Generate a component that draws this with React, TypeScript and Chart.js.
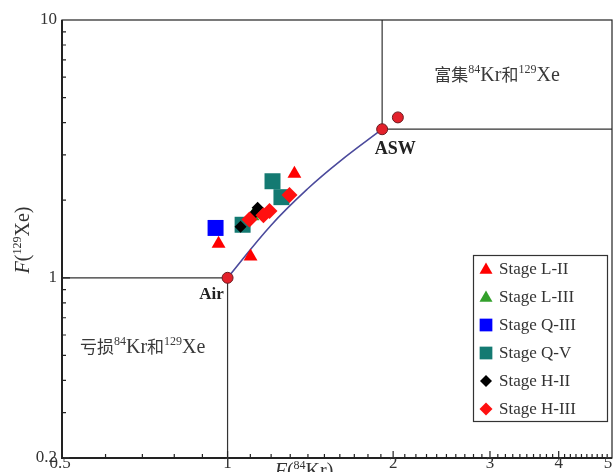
import React, { useEffect, useRef } from "react";
import { Chart, registerables } from "chart.js";

Chart.register(...registerables);

// ---- data ----
const SERIES_NAMES = ["Stage L-II", "Stage L-III", "Stage Q-III", "Stage Q-V", "Stage H-II", "Stage H-III"];

const L2_KR = [0.963, 1.101, 1.323];
const L2_XE = [1.354, 1.209, 2.531];
const L3_KR = [1.11];
const L3_XE = [1.733];
const Q3_KR = [0.951];
const Q3_XE = [1.561];
const Q5_KR = [1.065, 1.207, 1.253];
const Q5_XE = [1.606, 2.369, 2.055];
const H2_KR = [1.056, 1.115, 1.134];
const H2_XE = [1.576, 1.766, 1.869];
const H3_KR = [1.096, 1.162, 1.192, 1.296];
const H3_XE = [1.684, 1.749, 1.816, 2.094];

const AIR_KR = 1;
const AIR_XE = 1;
const ASW_KR = 1.91;
const ASW_XE = 3.77;
const EXTRA_KR = [2.04];
const EXTRA_XE = [4.19];

// mixing line Air -> ASW
const MIX_KR = [1, 1.2, 1.4, 1.6, 1.91];
const MIX_XE = [1, 1.6, 2.22, 2.83, 3.77];

// axes
const X_MIN = 0.5;
const X_MAX = 5;
const Y_MIN = 0.2;
const Y_MAX = 10;
const X_LABELS = [0.5, 1, 2, 3, 4, 5];
const Y_LABELS = [0.2, 1, 10];
const X_MAJOR_TICKS = [1, 2, 3, 4];
const X_MINOR_TICKS = [
  0.6, 0.7, 0.8, 0.9, 1.1, 1.2, 1.3, 1.4, 1.5, 1.6, 1.7, 1.8, 1.9, 2.1, 2.2, 2.3, 2.4, 2.5, 2.6, 2.7, 2.8, 2.9,
  3.1, 3.2, 3.3, 3.4, 3.5, 3.6, 3.7, 3.8, 3.9, 4.1, 4.2, 4.3, 4.4, 4.5, 4.6, 4.7, 4.8, 4.9,
];
const Y_MAJOR_TICKS = [1];
const Y_MINOR_TICKS = [0.3, 0.4, 0.5, 0.6, 0.7, 0.8, 0.9, 2, 3, 4, 5, 6, 7, 8, 9];

const COLORS = ["#ff0000", "#33a02c", "#0000ff", "#147a72", "#000000", "#ff1010"];
const SHAPES = ["triangle", "triangle", "rect", "rect", "rectRot", "rectRot"];
const SIZES = [8, 8, 11.3, 11.3, 6, 8];

const SERIF = '"Liberation Serif", "Times New Roman", serif';
const CJK = '"Noto Sans CJK SC", sans-serif';

const pts = (xs: number[], ys: number[]) => xs.map((v, i) => ({ x: v, y: ys[i] }));

type Part = { t: string; font: string; dy?: number };

function drawRich(ctx: CanvasRenderingContext2D, x: number, y: number, parts: Part[], align: string) {
  let total = 0;
  const widths: number[] = [];
  for (const p of parts) {
    ctx.font = p.font;
    const w = ctx.measureText(p.t).width;
    widths.push(w);
    total += w;
  }
  let cx = align === "center" ? x - total / 2 : align === "right" ? x - total : x;
  ctx.textAlign = "left";
  parts.forEach((p, i) => {
    ctx.font = p.font;
    ctx.fillText(p.t, cx, y + (p.dy || 0));
    cx += widths[i];
  });
}

function drawMarker(ctx: CanvasRenderingContext2D, shape: string, x: number, y: number, r: number, color: string) {
  ctx.fillStyle = color;
  ctx.beginPath();
  if (shape === "triangle") {
    for (let k = 0; k < 3; k++) {
      const a = (k * 2 * Math.PI) / 3;
      const px = x + Math.sin(a) * r;
      const py = y - Math.cos(a) * r;
      if (k === 0) ctx.moveTo(px, py);
      else ctx.lineTo(px, py);
    }
    ctx.closePath();
  } else if (shape === "rect") {
    const s = r * Math.SQRT1_2;
    ctx.rect(x - s, y - s, 2 * s, 2 * s);
  } else {
    ctx.moveTo(x, y - r);
    ctx.lineTo(x + r, y);
    ctx.lineTo(x, y + r);
    ctx.lineTo(x - r, y);
    ctx.closePath();
  }
  ctx.fill();
}

const regionText = (word: string): Part[] => [
  { t: word, font: `17px ${CJK}` },
  { t: "84", font: `12px ${SERIF}`, dy: -8 },
  { t: "Kr", font: `20px ${SERIF}` },
  { t: "和", font: `17px ${CJK}` },
  { t: "129", font: `12px ${SERIF}`, dy: -8 },
  { t: "Xe", font: `20px ${SERIF}` },
];

const overlay = {
  id: "overlay",
  beforeDatasetsDraw(chart: any) {
    const { ctx, chartArea: a } = chart;
    const xs = chart.scales.x;
    const ys = chart.scales.y;
    ctx.save();
    ctx.strokeStyle = "#333";
    ctx.lineWidth = 1.2;
    const ax = xs.getPixelForValue(AIR_KR);
    const ay = ys.getPixelForValue(AIR_XE);
    const sx = xs.getPixelForValue(ASW_KR);
    const sy = ys.getPixelForValue(ASW_XE);
    ctx.beginPath();
    ctx.moveTo(a.left, ay);
    ctx.lineTo(ax, ay);
    ctx.lineTo(ax, a.bottom);
    ctx.moveTo(sx, a.top);
    ctx.lineTo(sx, sy);
    ctx.lineTo(a.right, sy);
    ctx.stroke();

    // region annotations
    ctx.fillStyle = "#3a3a3a";
    ctx.textBaseline = "alphabetic";
    drawRich(ctx, (sx + a.right) / 2, 81, regionText("富集"), "center");
    drawRich(ctx, 80, 353, regionText("亏损"), "left");
    ctx.restore();
  },
  afterDatasetsDraw(chart: any) {
    const { ctx, chartArea: a } = chart;
    const xs = chart.scales.x;
    const ys = chart.scales.y;
    ctx.save();

    // frame
    ctx.strokeStyle = "#222";
    ctx.lineWidth = 1.2;
    ctx.strokeRect(a.left, a.top, a.right - a.left, a.bottom - a.top);
    ctx.lineWidth = 2;
    ctx.beginPath();
    ctx.moveTo(a.left, a.top);
    ctx.lineTo(a.left, a.bottom);
    ctx.lineTo(a.right, a.bottom);
    ctx.stroke();

    // ticks (inward)
    ctx.lineWidth = 1.2;
    ctx.beginPath();
    for (const v of X_MINOR_TICKS) {
      const p = xs.getPixelForValue(v);
      ctx.moveTo(p, a.bottom);
      ctx.lineTo(p, a.bottom - 4);
    }
    for (const v of X_MAJOR_TICKS) {
      const p = xs.getPixelForValue(v);
      ctx.moveTo(p, a.bottom);
      ctx.lineTo(p, a.bottom - 7);
    }
    for (const v of Y_MINOR_TICKS) {
      const p = ys.getPixelForValue(v);
      ctx.moveTo(a.left, p);
      ctx.lineTo(a.left + 4, p);
    }
    for (const v of Y_MAJOR_TICKS) {
      const p = ys.getPixelForValue(v);
      ctx.moveTo(a.left, p);
      ctx.lineTo(a.left + 8, p);
    }
    ctx.stroke();

    // tick labels
    ctx.fillStyle = "#333";
    ctx.font = `17px ${SERIF}`;
    ctx.textBaseline = "middle";
    ctx.textAlign = "right";
    for (const v of Y_LABELS) {
      ctx.fillText(String(v), a.left - 5, ys.getPixelForValue(v));
    }
    ctx.textAlign = "center";
    for (const v of X_LABELS) {
      let p = xs.getPixelForValue(v);
      if (v === X_MAX) p -= 4;
      if (v === X_MIN) p -= 2;
      ctx.fillText(String(v), p, a.bottom + 6);
    }

    // axis titles
    ctx.textBaseline = "alphabetic";
    drawRich(
      ctx,
      304,
      477,
      [
        { t: "F", font: `italic 20px ${SERIF}` },
        { t: "(", font: `20px ${SERIF}` },
        { t: "84", font: `12px ${SERIF}`, dy: -8 },
        { t: "Kr)", font: `20px ${SERIF}` },
      ],
      "center"
    );
    ctx.save();
    ctx.translate(29, 240);
    ctx.rotate(-Math.PI / 2);
    drawRich(
      ctx,
      0,
      0,
      [
        { t: "F", font: `italic 20px ${SERIF}` },
        { t: "(", font: `20px ${SERIF}` },
        { t: "129", font: `12px ${SERIF}`, dy: -8 },
        { t: "Xe)", font: `20px ${SERIF}` },
      ],
      "center"
    );
    ctx.restore();

    // Air / ASW labels
    ctx.fillStyle = "#222";
    ctx.font = `bold 17px ${SERIF}`;
    ctx.textAlign = "center";
    ctx.textBaseline = "middle";
    ctx.fillText("Air", xs.getPixelForValue(AIR_KR) - 16, ys.getPixelForValue(AIR_XE) + 17);
    ctx.font = `bold 18px ${SERIF}`;
    ctx.fillText("ASW", xs.getPixelForValue(ASW_KR) + 13, ys.getPixelForValue(ASW_XE) + 20);

    // legend
    const lx = 473.5;
    const ly = 255.5;
    const lw = 134;
    const lh = 166;
    ctx.fillStyle = "#fff";
    ctx.fillRect(lx, ly, lw, lh);
    ctx.strokeStyle = "#333";
    ctx.lineWidth = 1.2;
    ctx.strokeRect(lx, ly, lw, lh);
    const legendSizes = [7.5, 7.5, 9, 9, 6, 6.5];
    SERIES_NAMES.forEach((name, i) => {
      const yy = 269 + i * 28;
      drawMarker(ctx, SHAPES[i], 486, yy + (SHAPES[i] === "triangle" ? 1 : 0), legendSizes[i], COLORS[i]);
      ctx.fillStyle = "#333";
      ctx.font = `17px ${SERIF}`;
      ctx.textAlign = "left";
      ctx.textBaseline = "middle";
      ctx.fillText(name, 499, yy + 1);
    });

    ctx.restore();
  },
};

export default function App() {
  const ref = useRef<HTMLCanvasElement>(null);
  useEffect(() => {
    document.body.style.margin = "0";
    const series = [
      pts(L2_KR, L2_XE),
      pts(L3_KR, L3_XE),
      pts(Q3_KR, Q3_XE),
      pts(Q5_KR, Q5_XE),
      pts(H2_KR, H2_XE),
      pts(H3_KR, H3_XE),
    ];
    const datasets: any[] = series.map((d, i) => ({
      label: SERIES_NAMES[i],
      data: d,
      pointStyle: SHAPES[i],
      pointRadius: SIZES[i],
      backgroundColor: COLORS[i],
      borderColor: COLORS[i],
      borderWidth: 0,
      order: 5 - i + 1,
    }));
    datasets.push({
      label: "mixing",
      data: pts(MIX_KR, MIX_XE),
      showLine: true,
      borderColor: "#4b4a9c",
      borderWidth: 1.6,
      pointRadius: 0,
      tension: 0.4,
      order: 20,
    });
    datasets.push({
      label: "end-members",
      data: [{ x: AIR_KR, y: AIR_XE }, { x: ASW_KR, y: ASW_XE }, ...pts(EXTRA_KR, EXTRA_XE)],
      pointStyle: "circle",
      pointRadius: 5.5,
      backgroundColor: "#e3212b",
      borderColor: "#6b1d22",
      borderWidth: 1,
      order: 0,
    });

    const chart = new Chart(ref.current!, {
      type: "scatter",
      data: { datasets },
      options: {
        responsive: false,
        devicePixelRatio: 1,
        animation: false,
        layout: { autoPadding: false, padding: { left: 62, right: 2, top: 20, bottom: 14 } },
        plugins: { legend: { display: false }, tooltip: { enabled: false } },
        scales: {
          x: { type: "logarithmic", min: X_MIN, max: X_MAX, bounds: "data", display: false },
          y: { type: "logarithmic", min: Y_MIN, max: Y_MAX, bounds: "data", display: false },
        },
      } as any,
      plugins: [overlay],
    });
    return () => chart.destroy();
  }, []);
  return (
    <div style={{ width: 614, height: 472 }}>
      <canvas ref={ref} width={614} height={472} style={{ display: "block" }} />
    </div>
  );
}
